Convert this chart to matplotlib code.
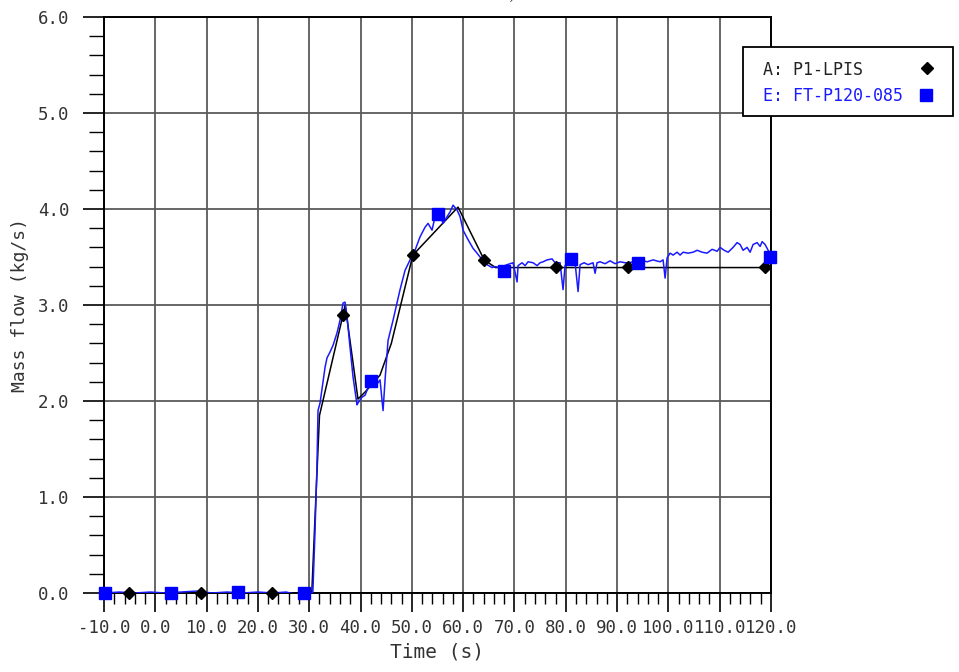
import matplotlib
matplotlib.use("Agg")
import matplotlib.pyplot as plt
from matplotlib.lines import Line2D
from matplotlib.patches import Rectangle
from matplotlib.ticker import MultipleLocator, FormatStrFormatter

plt.rcParams['axes.unicode_minus'] = False

# ---- data ----
# A: P1-LPIS (calculated, coarse)
a_time = [-10.0, 30.5, 31.3, 32.0, 36.6, 37.0, 39.5, 41.0, 43.8, 46.0, 50.2, 59.0, 64.1, 66.3, 120.0]
a_flow = [0.0, 0.0, 1.0, 1.85, 2.9, 3.0, 2.02, 2.1, 2.27, 2.6, 3.52, 4.02, 3.47, 3.39, 3.39]
a_mark_t = [-5.1, 8.9, 22.7, 36.6, 50.2, 64.1, 78.1, 92.1, 118.8]
a_mark_v = [0.0, 0.0, 0.0, 2.9, 3.52, 3.47, 3.4, 3.4, 3.4]

# E: FT-P120-085 (measured)
e_time = [-10.0, -7.0, -4.0, -1.0, 2.0, 5.0, 8.0, 11.0, 14.0, 17.0, 20.0, 23.0, 25.5, 27.0, 29.0, 30.7,
          31.1, 31.5, 31.71, 32.11, 33.08, 33.47, 34.05, 34.64, 35.42, 36.0, 36.59, 36.98, 37.37,
          37.95, 38.54, 39.32, 39.51, 40.29, 40.88, 41.46, 42.83, 43.41, 43.8, 44.39, 44.78, 45.36,
          46.33, 47.7, 48.67, 49.65, 50.62, 51.6, 52.57, 53.16, 53.94, 54.52, 55.11, 56.08, 56.86,
          57.45, 58.03, 58.81, 59.4, 59.98, 60.96, 61.93, 62.71, 63.29, 64.66, 65.63, 66.22, 67.19,
          68.56, 69.73, 70.51, 70.7, 71.48, 72.07, 72.65, 73.63, 74.41, 74.99, 75.58, 76.36, 77.33,
          77.92, 78.89, 79.47, 79.86, 80.45, 81.23, 81.81, 82.4, 82.79, 83.57, 84.35, 85.32, 85.71,
          86.1, 86.69, 87.66, 88.64, 89.61, 90.58, 91.56, 92.14, 93.31, 94.5, 95.85, 97.02, 98.38,
          98.97, 99.36, 99.75, 100.33, 100.92, 101.7, 102.28, 102.87, 103.84, 104.82, 105.6, 106.57,
          107.54, 108.52, 109.49, 110.08, 110.86, 111.64, 112.61, 113.39, 113.98, 114.56, 115.34,
          115.93, 116.51, 117.29, 117.88, 118.27, 118.85, 119.44, 119.82]
e_flow = [0.0, 0.01, 0.0, 0.01, 0.0, 0.01, 0.02, 0.0, 0.01, 0.0, 0.01, 0.0, 0.01, -0.01, 0.0, 0.0,
          0.6, 1.3, 1.9, 1.98, 2.35, 2.45, 2.51, 2.58, 2.71, 2.84, 3.02, 3.03, 2.88,
          2.56, 2.25, 1.96, 1.98, 2.04, 2.06, 2.14, 2.17, 2.19, 2.22, 1.9, 2.22, 2.63,
          2.84, 3.16, 3.36, 3.47, 3.57, 3.71, 3.81, 3.85, 3.78, 3.92, 3.99, 3.85, 3.92,
          3.97, 4.04, 3.99, 3.92, 3.78, 3.68, 3.59, 3.54, 3.5, 3.42, 3.39, 3.4, 3.39,
          3.42, 3.44, 3.24, 3.41, 3.44, 3.41, 3.45, 3.44, 3.41, 3.44, 3.45, 3.47, 3.48,
          3.44, 3.44, 3.16, 3.41, 3.44, 3.42, 3.44, 3.14, 3.42, 3.44, 3.42, 3.44, 3.33,
          3.44, 3.45, 3.43, 3.46, 3.43, 3.45, 3.44, 3.44, 3.45, 3.47, 3.45, 3.47, 3.45,
          3.47, 3.28, 3.49, 3.54, 3.52, 3.55, 3.52, 3.55, 3.54, 3.55, 3.57, 3.55,
          3.54, 3.58, 3.56, 3.6, 3.57, 3.55, 3.6, 3.65, 3.63, 3.57, 3.6,
          3.55, 3.63, 3.65, 3.61, 3.66, 3.63, 3.57, 3.54]
e_mark_t = [-9.8, 3.1, 16.1, 29.0, 42.0, 55.1, 68.0, 81.0, 94.0, 119.8]
e_mark_v = [0.0, 0.0, 0.01, 0.0, 2.21, 3.95, 3.35, 3.48, 3.44, 3.5]

blue = '#1a1aff'
mono = 'DejaVu Sans Mono'

fig = plt.figure(figsize=(9.59, 6.72), dpi=100)
ax = fig.add_axes([104 / 959, 1 - 593 / 672, 667 / 959, 576 / 672])

ax.plot(a_time, a_flow, color='black', lw=1.1, zorder=3)
ax.plot(e_time, e_flow, color=blue, lw=1.1, zorder=4)
ax.plot(a_mark_t, a_mark_v, 'D', color='black', ms=6.5, clip_on=False, zorder=5)
ax.plot(e_mark_t, e_mark_v, 's', color='#0000ff', ms=8.5, clip_on=False, zorder=5)

ax.set_xlim(-10, 120)
ax.set_ylim(0, 6)
ax.xaxis.set_major_locator(MultipleLocator(10))
ax.xaxis.set_minor_locator(MultipleLocator(2))
ax.yaxis.set_major_locator(MultipleLocator(1))
ax.yaxis.set_minor_locator(MultipleLocator(0.2))
ax.xaxis.set_major_formatter(FormatStrFormatter('%.1f'))
ax.yaxis.set_major_formatter(FormatStrFormatter('%.1f'))

ax.grid(True, which='major', color='#5a5a5a', lw=1.3)
ax.set_axisbelow(True)
ax.tick_params(axis='x', which='major', direction='out', length=14, width=1.2, pad=5,
               labelsize=12.5, labelcolor='#333333')
ax.tick_params(axis='x', which='minor', direction='out', length=8, width=1.0)
ax.tick_params(axis='y', which='major', direction='out', length=15, width=1.2, pad=10,
               labelsize=12.5, labelcolor='#333333')
ax.tick_params(axis='y', which='minor', direction='out', length=11, width=1.0)
for lab in ax.get_xticklabels() + ax.get_yticklabels():
    lab.set_family(mono)
for s in ax.spines.values():
    s.set_linewidth(1.4)
    s.set_color('black')

ax.set_xlabel('Time (s)', family=mono, fontsize=14, color='#333333', labelpad=4)
ax.set_ylabel('Mass flow (kg/s)', family=mono, fontsize=13, color='#333333', labelpad=6)

# legend box drawn by hand, it sits over the right edge of the plot
fig.add_artist(Rectangle((743 / 959, 1 - 116 / 672), 210 / 959, 69 / 672,
                         transform=fig.transFigure, facecolor='white',
                         edgecolor='black', lw=1.3, zorder=10))
fig.text(763 / 959, 1 - 70 / 672, 'A: P1-LPIS', family=mono, fontsize=12,
         color='#222222', va='center', zorder=11)
fig.text(763 / 959, 1 - 96 / 672, 'E: FT-P120-085', family=mono, fontsize=12,
         color=blue, va='center', zorder=11)
fig.add_artist(Line2D([927 / 959], [1 - 68 / 672], marker='D', color='black', ms=6.5,
                      transform=fig.transFigure, zorder=11))
fig.add_artist(Line2D([926 / 959], [1 - 95 / 672], marker='s', color='#0000ff', ms=8,
                      transform=fig.transFigure, zorder=11))

fig.text(511 / 959, 1 - 6 / 672, '\u00b4', fontsize=8, color='#333333', ha='center', va='center')

fig.savefig('out.png', dpi=100)
